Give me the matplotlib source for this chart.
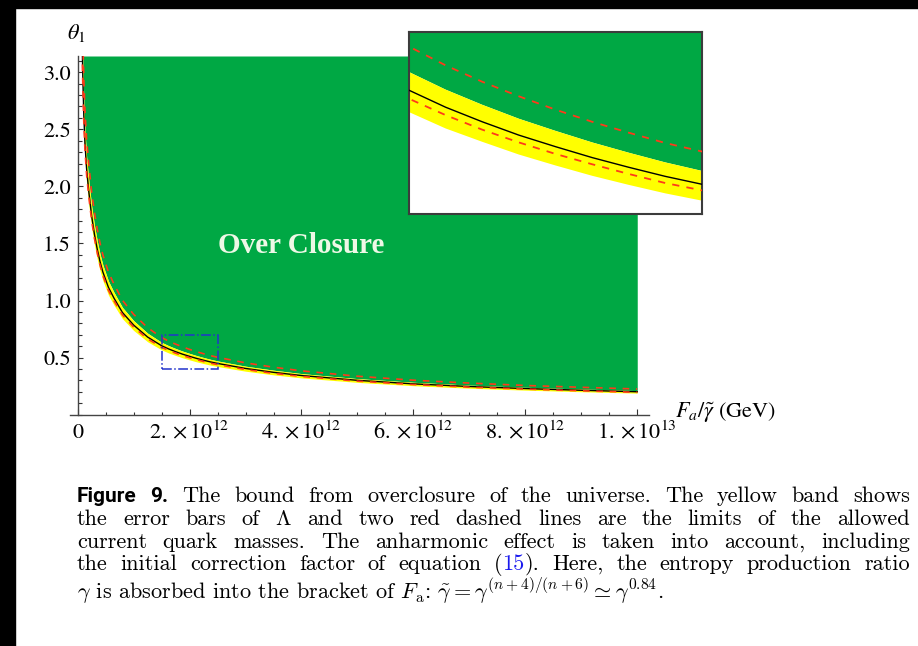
import numpy as np
import matplotlib
matplotlib.use('Agg')
import matplotlib.pyplot as plt
from matplotlib.patches import Rectangle
from matplotlib.ticker import FixedLocator, FixedFormatter, MultipleLocator

plt.rcParams['font.family'] = 'STIXGeneral'
plt.rcParams['mathtext.fontset'] = 'stix'

# F_a / gamma~ in units of 1e12 GeV
Fa = [0.085, 0.09, 0.10, 0.11, 0.13, 0.16, 0.20, 0.25, 0.30, 0.35, 0.40, 0.45,
      0.55, 0.65, 0.80, 1.00, 1.25, 1.50, 1.625, 1.75, 1.875, 2.00, 2.125, 2.25,
      2.375, 2.50, 3.0, 3.5, 4.0, 5.0, 6.0, 7.0, 8.0, 9.0, 10.0]
# central bound (black line)
theta_mid = [3.14, 3.0, 2.8, 2.62, 2.38, 2.15, 1.95, 1.74, 1.58, 1.45, 1.34, 1.25,
             1.115, 1.02, 0.895, 0.785, 0.68, 0.604, 0.576, 0.552, 0.530, 0.511, 0.493, 0.477,
             0.462, 0.449, 0.405, 0.371, 0.343, 0.301, 0.270, 0.247, 0.229, 0.214, 0.201]
# yellow band (error bars of Lambda)
band_hi = [3.297, 3.15, 2.94, 2.751, 2.499, 2.258, 2.048, 1.827, 1.659, 1.523, 1.407, 1.313,
           1.171, 1.071, 0.940, 0.824, 0.714, 0.634, 0.605, 0.580, 0.557, 0.537, 0.518, 0.501,
           0.485, 0.471, 0.425, 0.390, 0.360, 0.316, 0.284, 0.259, 0.240, 0.225, 0.211]
band_lo = [2.952, 2.82, 2.632, 2.463, 2.237, 2.021, 1.833, 1.636, 1.485, 1.363, 1.260, 1.175,
           1.048, 0.959, 0.841, 0.738, 0.639, 0.568, 0.541, 0.519, 0.498, 0.480, 0.463, 0.448,
           0.434, 0.422, 0.381, 0.349, 0.322, 0.283, 0.254, 0.232, 0.215, 0.201, 0.189]
# red dashed lines (quark mass limits)
dash_hi = [3.517, 3.36, 3.136, 2.934, 2.666, 2.408, 2.184, 1.949, 1.770, 1.624, 1.501, 1.400,
           1.249, 1.142, 1.002, 0.879, 0.762, 0.676, 0.645, 0.618, 0.594, 0.572, 0.552, 0.534,
           0.517, 0.503, 0.454, 0.416, 0.384, 0.337, 0.302, 0.277, 0.256, 0.240, 0.225]
dash_lo = [3.068, 2.931, 2.736, 2.560, 2.325, 2.101, 1.905, 1.700, 1.544, 1.417, 1.309, 1.221,
           1.089, 0.997, 0.874, 0.767, 0.664, 0.590, 0.563, 0.539, 0.518, 0.499, 0.482, 0.466,
           0.451, 0.439, 0.396, 0.362, 0.335, 0.294, 0.264, 0.241, 0.224, 0.209, 0.196]

theta_max = np.pi
xticks = [0, 2, 4, 6, 8, 10]
xtick_labels = ['0', r'$2.\times10^{12}$', r'$4.\times10^{12}$', r'$6.\times10^{12}$',
                r'$8.\times10^{12}$', r'$1.\times10^{13}$']
yticks = [0.5, 1.0, 1.5, 2.0, 2.5, 3.0]
ytick_labels = ['0.5', '1.0', '1.5', '2.0', '2.5', '3.0']
zoom_box = [1.5, 2.5, 0.4, 0.7]   # x0, x1, y0, y1

caption = [
    [[('Figure', 'bold')], [('9.', 'bold')], 'The', 'bound', 'from', 'overclosure', 'of', 'the',
     'universe.', 'The', 'yellow', 'band', 'shows'],
    ['the', 'error', 'bars', 'of', r'$\Lambda$', 'and', 'two', 'red', 'dashed', 'lines', 'are',
     'the', 'limits', 'of', 'the', 'allowed'],
    ['current', 'quark', 'masses.', 'The', 'anharmonic', 'effect', 'is', 'taken', 'into',
     'account,', 'including'],
    ['the', 'initial', 'correction', 'factor', 'of', 'equation',
     [('(', 'body'), ('15', 'blue'), (').', 'body')], 'Here,', 'the', 'entropy', 'production',
     'ratio'],
]
caption_last = (r'$\gamma$ is absorbed into the bracket of $F_\mathrm{a}$: '
                r'$\tilde{\gamma}=\gamma^{(n+4)/(n+6)}\simeq\gamma^{0.84}$.')

GREEN = '#00a844'
YELLOW = '#ffff00'
RED = '#ff3a1a'

W, H = 918, 646
fig = plt.figure(figsize=(W / 100, H / 100), dpi=100)


def fx(x):
    return x / W


def fy(y):
    return 1 - y / H


def draw_curves(ax, lw_dash=1.2):
    ax.fill_between(Fa, band_hi, theta_max, color=GREEN, lw=0, zorder=1)
    ax.fill_between(Fa, band_lo, band_hi, color=YELLOW, lw=0, zorder=2)
    ax.plot(Fa, theta_mid, color='black', lw=1.0, zorder=3)
    ax.plot(Fa, dash_hi, color=RED, lw=lw_dash, dashes=(4, 4), zorder=4)
    ax.plot(Fa, dash_lo, color=RED, lw=lw_dash, dashes=(4, 4), zorder=4)


# main plot
ax = fig.add_axes([fx(70), fy(414.7), fx(649 - 70), (414.7 - 56) / H])
draw_curves(ax)
ax.set_xlim(-0.137, 10.21)
ax.set_ylim(0, theta_max)
ax.patch.set_alpha(0)
for s in ['top', 'right']:
    ax.spines[s].set_visible(False)
ax.spines['left'].set_position(('data', 0))
for s in ['left', 'bottom']:
    ax.spines[s].set_color('#444444')
    ax.spines[s].set_linewidth(1.0)

ax.xaxis.set_major_locator(FixedLocator(xticks))
ax.xaxis.set_major_formatter(FixedFormatter(xtick_labels))
ax.xaxis.set_minor_locator(MultipleLocator(0.5))
ax.yaxis.set_major_locator(FixedLocator(yticks))
ax.yaxis.set_major_formatter(FixedFormatter(ytick_labels))
ax.yaxis.set_minor_locator(MultipleLocator(0.1))
ax.tick_params(which='both', direction='in', color='#333333', width=0.8, labelsize=16)
ax.tick_params(axis='x', which='major', length=4.5, pad=17)
ax.tick_params(axis='x', which='minor', length=2.5)
ax.tick_params(axis='y', which='major', length=3.8, pad=5)
ax.tick_params(axis='y', which='minor', length=2.6)
for lab in ax.get_xticklabels():
    lab.set_verticalalignment('baseline')

x0, x1, y0, y1 = zoom_box
ax.add_patch(Rectangle((x0, y0), x1 - x0, y1 - y0, fill=False, ec='#2233cc',
                       ls='-.', lw=1.1, zorder=6))

ax.text(4.0, 1.48, 'Over Closure', color='#eef8e6', fontsize=21, fontweight='bold',
        family='Liberation Serif', ha='center', va='center', zorder=7)

fig.text(fx(675), fy(413), r'$F_a/\tilde{\gamma}$ (GeV)', fontsize=16, ha='left', va='center')
fig.text(fx(76), fy(33), r'$\theta_1$', fontsize=16, ha='center', va='center')

# inset
axi = fig.add_axes([fx(409), fy(214), fx(702 - 409), (214 - 32) / H])
draw_curves(axi, lw_dash=1.3)
axi.set_xlim(x0, x1)
axi.set_ylim(y0, y1)
axi.set_xticks([])
axi.set_yticks([])
for s in axi.spines.values():
    s.set_color('#3c3c3c')
    s.set_linewidth(1.5)

# caption, justified like the TeX original
styles = {
    'body': dict(family='cmr10', fontsize=16, math_fontfamily='cm', color='black'),
    'blue': dict(family='cmr10', fontsize=16, math_fontfamily='cm', color='#1a1aee'),
    'bold': dict(family='Roboto', fontsize=15, fontweight='bold', color='black'),
}
renderer = fig.canvas.get_renderer()
left_px, right_px = 77, 910
baselines = [502, 525, 548, 570, 599]

for line, yb in zip(caption, baselines):
    words = []
    for w in line:
        segs = [(w, 'body')] if isinstance(w, str) else w
        items = []
        for txt, st in segs:
            t = fig.text(0, fy(yb), txt, ha='left', va='baseline', **styles[st])
            items.append((t, t.get_window_extent(renderer).width))
        words.append(items)
    widths = [sum(wd for _, wd in it) for it in words]
    gap = (right_px - left_px - sum(widths)) / (len(words) - 1)
    xpos = left_px
    for it, wd in zip(words, widths):
        xs = xpos
        for t, w in it:
            t.set_x(fx(xs))
            xs += w
        xpos += wd + gap

fig.text(fx(left_px), fy(baselines[4]), caption_last, ha='left', va='baseline',
         **styles['body'])

# dark scan border on the top and left
fig.patches.append(Rectangle((0, 0), fx(15), 1, transform=fig.transFigure,
                             color='black', zorder=10))
fig.patches.append(Rectangle((0, fy(7.5)), 1, 7.5 / H, transform=fig.transFigure,
                             color='black', zorder=10))

fig.savefig('out.png', dpi=100, facecolor='white')
